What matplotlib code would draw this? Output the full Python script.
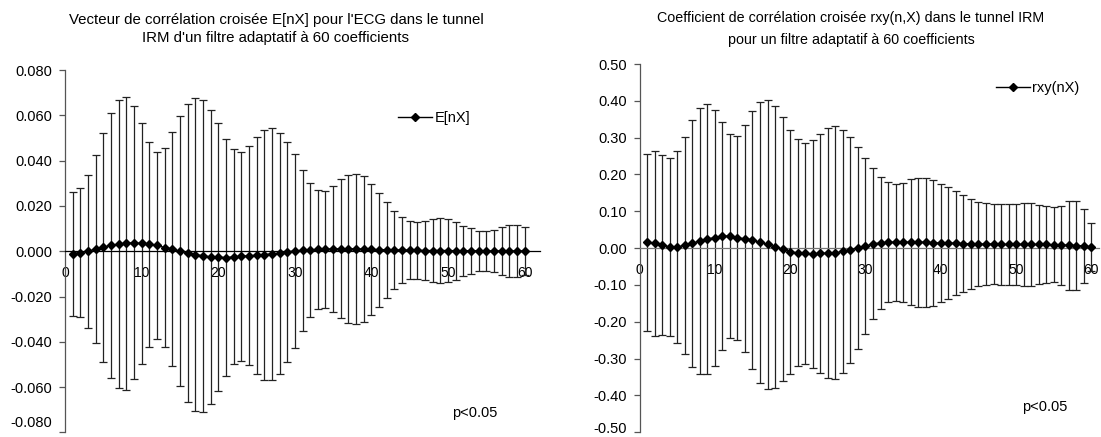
import matplotlib
matplotlib.use('Agg')
import matplotlib.pyplot as plt
from matplotlib.ticker import FormatStrFormatter
from matplotlib.transforms import ScaledTranslation

plt.rcParams['font.family'] = ['Liberation Sans', 'DejaVu Sans']
plt.rcParams['axes.unicode_minus'] = False

# coefficient index of the adaptive filter
coef = list(range(1, 61))

# E[nX] (left panel): mean and half-width of the error bars
e_mean = [-0.0012, -0.0006, -0.0001, 0.0010, 0.0018, 0.0026, 0.0031, 0.0035, 0.0037, 0.0034,
          0.0031, 0.0026, 0.0016, 0.0010, 0.0000, -0.0006, -0.0015, -0.0020, -0.0025, -0.0026,
          -0.0028, -0.0025, -0.0023, -0.0020, -0.0018, -0.0015, -0.0012, -0.0009, -0.0003, 0.0001,
          0.0004, 0.0006, 0.0008, 0.0009, 0.0010, 0.0010, 0.0011, 0.0010, 0.0009, 0.0008,
          0.0007, 0.0006, 0.0005, 0.0005, 0.0004, 0.0004, 0.0003, 0.0003, 0.0003, 0.0003,
          0.0002, 0.0002, 0.0002, 0.0002, 0.0001, 0.0001, 0.0001, 0.0001, 0.0001, 0.0001]
e_err = [0.0272, 0.0286, 0.0336, 0.0416, 0.0506, 0.0586, 0.0637, 0.0646, 0.0603, 0.0530,
         0.0453, 0.0414, 0.0440, 0.0515, 0.0597, 0.0658, 0.0691, 0.0688, 0.0649, 0.0590,
         0.0523, 0.0475, 0.0462, 0.0484, 0.0522, 0.0552, 0.0558, 0.0533, 0.0487, 0.0427,
         0.0356, 0.0296, 0.0262, 0.0258, 0.0278, 0.0307, 0.0327, 0.0333, 0.0322, 0.0290,
         0.0252, 0.0211, 0.0174, 0.0144, 0.0128, 0.0125, 0.0130, 0.0137, 0.0142, 0.0137,
         0.0128, 0.0110, 0.0102, 0.0088, 0.0087, 0.0092, 0.0105, 0.0113, 0.0113, 0.0105]

# rxy(nX) (right panel)
r_mean = [0.0163, 0.0136, 0.0082, 0.0036, 0.0036, 0.0072, 0.0136, 0.0190, 0.0254, 0.0280,
          0.0326, 0.0326, 0.0280, 0.0254, 0.0226, 0.0154, 0.0100, 0.0036, -0.0027, -0.0100,
          -0.0127, -0.0145, -0.0154, -0.0145, -0.0136, -0.0127, -0.0090, -0.0050, 0.0010, 0.0050,
          0.0120, 0.0140, 0.0160, 0.0160, 0.0160, 0.0160, 0.0160, 0.0160, 0.0140, 0.0140,
          0.0140, 0.0130, 0.0120, 0.0120, 0.0110, 0.0110, 0.0110, 0.0100, 0.0100, 0.0100,
          0.0100, 0.0100, 0.0100, 0.0100, 0.0090, 0.0080, 0.0080, 0.0070, 0.0060, 0.0030]
r_err = [0.2400, 0.2513, 0.2436, 0.2418, 0.2608, 0.2958, 0.3352, 0.3610, 0.3659, 0.3469,
         0.3103, 0.2777, 0.2777, 0.3080, 0.3510, 0.3827, 0.3926, 0.3831, 0.3591, 0.3306,
         0.3080, 0.2989, 0.3094, 0.3256, 0.3390, 0.3438, 0.3306, 0.3066, 0.2749, 0.2387,
         0.2048, 0.1785, 0.1631, 0.1595, 0.1618, 0.1704, 0.1749, 0.1749, 0.1698, 0.1612,
         0.1513, 0.1413, 0.1314, 0.1227, 0.1151, 0.1124, 0.1091, 0.1091, 0.1091, 0.1091,
         0.1128, 0.1128, 0.1077, 0.1033, 0.1015, 0.1078, 0.1209, 0.1219, 0.1006, 0.0660]

x_ticks = [0, 10, 20, 30, 40, 50, 60]
e_ticks = [-0.08, -0.06, -0.04, -0.02, 0.0, 0.02, 0.04, 0.06, 0.08]
r_ticks = [-0.5, -0.4, -0.3, -0.2, -0.1, 0.0, 0.1, 0.2, 0.3, 0.4, 0.5]

W, H = 1101, 437
fig = plt.figure(figsize=(W / 100, H / 100), dpi=100)


def px_axes(x0, x1, y0, y1):
    # axes box from pixel coords (top-left origin)
    return fig.add_axes([x0 / W, 1 - y1 / H, (x1 - x0) / W, (y1 - y0) / H])


def panel(ax, mean, err, ticks, fmt, xmax, label, zero_color, lift):
    ax.errorbar(coef, mean, yerr=err, fmt='none', ecolor='#222222',
                elinewidth=0.9, capsize=2.6, capthick=0.9, zorder=2)
    ax.plot(coef, mean, color='black', lw=1.0, marker='D', ms=4.5,
            label=label, zorder=3)
    ax.set_xlim(0, xmax)
    ax.set_ylim(ticks[0], ticks[-1])
    ax.set_yticks(ticks)
    ax.set_xticks(x_ticks)
    ax.yaxis.set_major_formatter(FormatStrFormatter(fmt))
    for s in ['top', 'right']:
        ax.spines[s].set_visible(False)
    ax.spines['bottom'].set_position(('data', 0))
    ax.spines['bottom'].set_color(zero_color)
    ax.spines['left'].set_color('#555555')
    ax.spines['bottom'].set_linewidth(0.9)
    ax.spines['left'].set_linewidth(0.9)
    ax.tick_params(axis='y', direction='out', length=4, width=0.9,
                   color='#555555', pad=5, labelsize=10.5)
    ax.tick_params(axis='x', direction='out', length=0, pad=11, labelsize=10)
    ax.patch.set_alpha(0)
    # lowest label sits a bit higher so it stays inside the picture
    bottom_lbl = ax.get_yticklabels()[0]
    bottom_lbl.set_transform(bottom_lbl.get_transform() +
                             ScaledTranslation(0, lift / 100, fig.dpi_scale_trans))


ax1 = px_axes(65, 540, 70, 432.4)
panel(ax1, e_mean, e_err, e_ticks, '%.3f', 62, 'E[nX]', 'black', 11)
ax1.legend(loc='center left', bbox_to_anchor=(398 / W, 1 - 118 / H),
           bbox_transform=fig.transFigure, frameon=False, numpoints=1,
           handlelength=2.3, handletextpad=0.2, borderpad=0, borderaxespad=0,
           fontsize=10.5)

ax2 = px_axes(639.5, 1099, 64, 432.3)
panel(ax2, r_mean, r_err, r_ticks, '%.2f', 61, 'rxy(nX)', '#777777', 5)
ax2.legend(loc='center left', bbox_to_anchor=(996 / W, 1 - 88 / H),
           bbox_transform=fig.transFigure, frameon=False, numpoints=1,
           handlelength=2.3, handletextpad=0.2, borderpad=0, borderaxespad=0,
           fontsize=10.5)

fig.text(276 / W, 1 - 29 / H,
         "Vecteur de corrélation croisée E[nX] pour l'ECG dans le tunnel\n"
         "IRM d'un filtre adaptatif à 60 coefficients",
         ha='center', va='center', fontsize=10.8, linespacing=1.4)
fig.text(851 / W, 1 - 29 / H,
         "Coefficient de corrélation croisée rxy(n,X) dans le tunnel IRM\n"
         "pour un filtre adaptatif à 60 coefficients",
         ha='center', va='center', fontsize=10.3, linespacing=1.7)

fig.text(475 / W, 1 - 413 / H, 'p<0.05', ha='center', va='center', fontsize=10.5)
fig.text(1045 / W, 1 - 407 / H, 'p<0.05', ha='center', va='center', fontsize=10.5)

fig.savefig('out.png', dpi=100)
